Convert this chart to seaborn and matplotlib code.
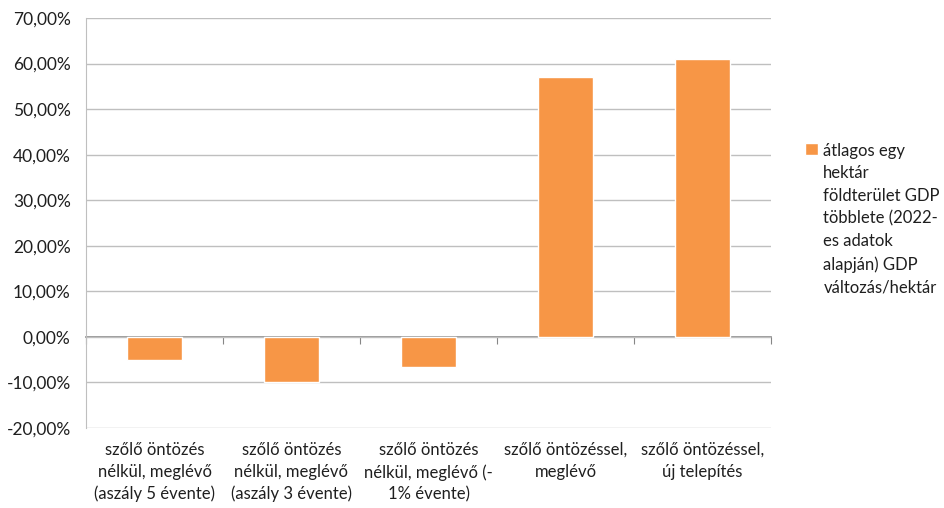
import numpy as np
import pandas as pd
import matplotlib
matplotlib.use("Agg")
import matplotlib.pyplot as plt
from matplotlib.ticker import FuncFormatter, MultipleLocator
import seaborn as sns

categories = [
    "szőlő öntözés\nnélkül, meglévő\n(aszály 5 évente)",
    "szőlő öntözés\nnélkül, meglévő\n(aszály 3 évente)",
    "szőlő öntözés\nnélkül, meglévő (-\n1% évente)",
    "szőlő öntözéssel,\nmeglévő",
    "szőlő öntözéssel,\núj telepítés",
]
gdp_change = [-0.0505, -0.099, -0.067, 0.571, 0.609]
series_name = ("átlagos egy\nhektár\nföldterület GDP\ntöbblete (2022-\n"
               "es adatok\nalapján) GDP\nváltozás/hektár")

df = pd.DataFrame({"kategoria": categories, "ertek": gdp_change})

sns.set_style("white")
plt.rcParams["font.family"] = ["Lato", "DejaVu Sans"]
text_col = "#1f1f1f"

fig = plt.figure(figsize=(9.44, 5.08), dpi=100)
ax = fig.add_axes([86 / 944, 1 - 428 / 508, (771 - 86) / 944, (428 - 18) / 508])

sns.barplot(data=df, x="kategoria", y="ertek", color="#F79646", width=0.4,
            saturation=1, ax=ax, label=series_name, zorder=3)

ymin, ymax = -0.2, 0.7
ax.set_ylim(ymin, ymax)
ax.set_xlim(-0.5, len(categories) - 0.5)
ax.yaxis.set_major_locator(MultipleLocator(0.1))
ax.yaxis.set_major_formatter(FuncFormatter(lambda v, p: f"{v * 100:.2f}%".replace(".", ",")))
ax.grid(axis="y", color="#BFBFBF", lw=1, zorder=0)
ax.set_xlabel("")
ax.set_ylabel("")

for s in ["top", "right", "bottom"]:
    ax.spines[s].set_visible(False)
ax.spines["left"].set_color("#BFBFBF")
ax.tick_params(axis="y", length=5, color="#BFBFBF", labelsize=12.5, labelcolor=text_col, pad=6)
ax.tick_params(axis="x", length=0, labelsize=12, labelcolor=text_col, pad=10)
for t in ax.get_xticklabels():
    t.set_linespacing(1.45)

# zero line with category boundary ticks
zero_pos = (0 - ymin) / (ymax - ymin)
sec = ax.secondary_xaxis(zero_pos)
sec.set_xticks(np.arange(-0.5, len(categories), 1.0))
sec.set_xticklabels([])
sec.spines["bottom"].set_color("#868686")
sec.spines["bottom"].set_linewidth(1.2)
sec.tick_params(axis="x", direction="out", length=5, color="#868686")

leg = ax.legend(loc="upper left", bbox_to_anchor=(805 / 944, 1 - 143 / 508),
                bbox_transform=fig.transFigure, frameon=False, fontsize=12,
                handlelength=0.75, handleheight=0.75, handletextpad=0.35,
                borderpad=0, borderaxespad=0, labelcolor=text_col)
for t in leg.get_texts():
    t.set_linespacing(1.5)
for col in leg._legend_handle_box.get_children():
    for row in col.get_children():
        row.align = "top"

fig.savefig("out.png", dpi=100)
